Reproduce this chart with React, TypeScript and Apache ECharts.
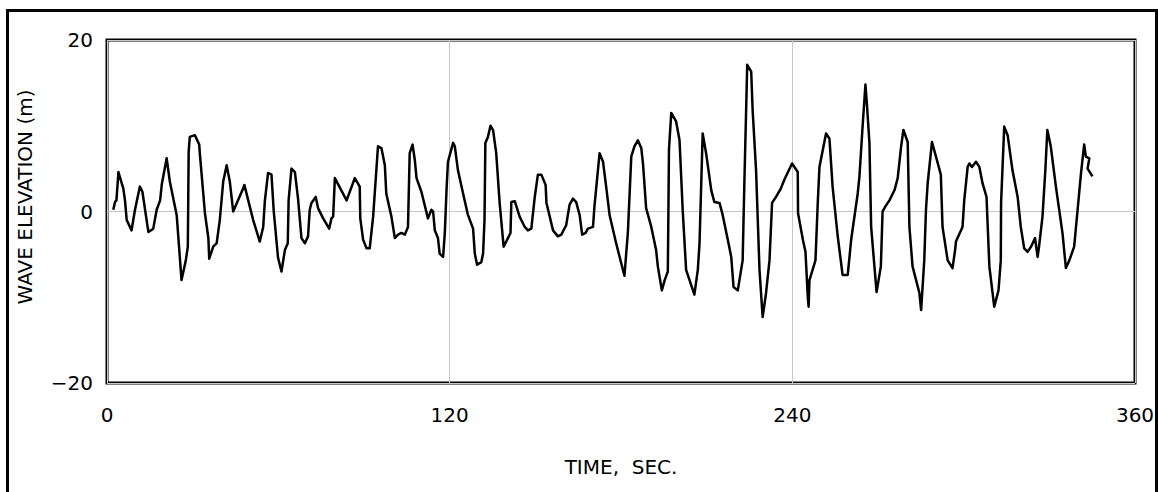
import React, { useEffect, useRef } from "react";
import * as echarts from "echarts";

const times: number[] = [
  2.2, 2.8, 3.3, 4.0, 5.7, 6.3, 6.9, 8.6, 9.8, 11.5, 12.4, 14.5, 16.2, 17.4, 18.6, 19.2, 20.9, 22.0, 24.4, 26.1,
  27.6, 28.3, 28.6, 29.0, 30.8, 32.3, 32.5, 34.3, 35.5, 35.8, 37.2, 38.4, 39.5, 40.7, 41.9, 43.0, 44.2, 47.7, 48.1, 51.2,
  53.5, 54.7, 55.3, 56.4, 57.6, 58.4, 59.9, 61.1, 62.3, 63.3, 63.6, 64.6, 65.8, 66.9, 68.1, 69.3, 70.4, 71.0, 71.6, 73.1,
  73.9, 75.7, 77.8, 78.6, 79.2, 79.8, 83.9, 86.8, 88.5, 88.7, 89.7, 90.9, 92.0, 93.2, 94.9, 96.1, 97.3, 97.8, 99.6, 100.8,
  101.9, 103.1, 104.3, 105.4, 106.0, 107.0, 107.8, 108.4, 110.1, 112.4, 113.6, 114.2, 114.8, 115.9, 116.5, 117.7, 118.3, 118.9, 119.4, 121.2,
  121.8, 122.9, 124.7, 126.4, 128.2, 128.8, 129.6, 131.1, 131.7, 132.2, 132.5, 133.4, 134.3, 135.2, 136.3, 137.5, 138.9, 140.4, 141.3, 141.6,
  142.8, 144.5, 146.3, 147.4, 148.6, 149.8, 150.9, 152.1, 153.6, 153.9, 156.2, 157.9, 159.1, 160.8, 162.0, 163.2, 164.3, 165.5, 166.4, 167.6,
  168.4, 170.2, 170.7, 172.5, 173.7, 174.8, 176.0, 178.3, 181.2, 182.4, 183.6, 184.7, 185.9, 187.1, 187.7, 188.8, 190.6, 192.3, 192.9, 194.3,
  195.3, 196.4, 196.8, 197.6, 199.3, 200.5, 201.6, 202.8, 204.0, 205.7, 206.9, 207.5, 208.6, 209.8, 211.6, 212.7, 214.5, 215.6, 217.4, 218.6,
  219.4, 220.9, 222.6, 223.2, 224.2, 225.6, 226.1, 227.3, 228.5, 229.6, 230.8, 232.0, 232.9, 234.3, 236.0, 237.2, 239.9, 241.9, 242.0, 243.7,
  244.6, 245.4, 245.7, 246.0, 248.1, 248.9, 249.5, 251.8, 253.0, 254.1, 255.9, 257.6, 259.4, 260.6, 262.9, 263.5, 264.6, 265.6, 266.1, 267.0,
  267.6, 269.5, 271.0, 271.6, 272.6, 274.0, 275.8, 276.9, 278.1, 278.9, 280.4, 281.0, 282.1, 284.5, 285.1, 286.2, 286.8, 287.4, 288.9, 290.3,
  292.0, 292.6, 294.4, 296.1, 297.0, 297.3, 299.6, 300.2, 301.4, 302.0, 302.9, 304.3, 305.5, 306.6, 308.0, 309.0, 310.7, 312.2, 313.0, 313.1,
  314.2, 315.4, 317.1, 318.9, 320.0, 321.2, 322.4, 323.6, 325.0, 325.9, 326.4, 327.6, 328.6, 329.3, 330.5, 332.3, 334.6, 335.8, 337.0, 338.7,
  339.9, 341.1, 342.2, 342.8, 344.0, 343.4, 345.1,
];

const elevations: number[] = [
  0.2, 1.1, 1.3, 4.6, 2.7, 1.3, -1.0, -2.2, 0.2, 2.9, 2.3, -2.4, -2.0, 0.2, 1.3, 3.2, 6.2, 3.5, -0.4, -8.0,
  -5.7, -4.1, 7.0, 8.7, 8.9, 7.8, 6.8, -0.2, -3.1, -5.5, -4.1, -3.7, -1.0, 3.5, 5.4, 3.5, 0.0, 2.7, 3.1, -1.0,
  -3.5, -1.8, 1.3, 4.5, 4.3, 0.0, -5.4, -7.0, -4.5, -3.7, 1.3, 5.0, 4.6, 1.5, -3.1, -3.7, -2.9, 0.2, 1.0, 1.7,
  0.4, -0.8, -2.0, -0.8, -0.6, 3.9, 1.3, 3.9, 2.9, -0.8, -3.3, -4.3, -4.3, -0.6, 7.6, 7.4, 5.4, 2.1, -0.6, -3.1,
  -2.7, -2.5, -2.7, -1.8, 6.8, 7.8, 6.0, 3.9, 2.3, -0.8, 0.2, 0.0, -2.2, -3.1, -4.9, -5.3, -2.5, 2.5, 5.8, 8.0,
  7.6, 4.8, 2.1, -0.4, -2.0, -4.9, -6.2, -5.9, -4.9, -1.0, 8.0, 8.7, 10.0, 9.5, 6.8, 1.0, -4.1, -3.1, -2.5, 1.1,
  1.2, -0.6, -1.8, -2.2, -2.0, 1.7, 4.3, 4.3, 3.1, 1.0, -2.2, -2.9, -2.7, -1.6, 0.8, 1.5, 1.1, -0.4, -2.7, -2.5,
  -2.0, -1.8, 0.6, 6.8, 5.8, 2.9, -0.4, -3.7, -7.5, -2.5, 6.4, 7.6, 8.3, 7.4, 5.6, 0.4, -1.8, -4.5, -6.4, -9.2,
  -8.0, -7.0, 7.2, 11.5, 10.5, 8.3, 0.2, -6.8, -8.0, -9.7, -6.8, -3.7, 9.1, 6.8, 2.5, 1.1, 1.0, -0.4, -3.3, -5.3,
  -8.8, -9.2, -5.7, 3.3, 17.1, 16.3, 11.8, 4.8, -6.8, -12.3, -9.5, -5.7, 1.0, 1.7, 2.7, 3.7, 5.6, 4.6, -0.2, -3.3,
  -4.7, -9.9, -11.1, -8.0, -5.7, 1.0, 5.2, 9.1, 8.5, 2.9, -2.9, -7.4, -7.4, -3.3, 2.1, 4.1, 9.9, 14.8, 12.6, 8.0,
  -1.8, -9.4, -6.4, 0.0, 0.6, 1.3, 2.5, 3.9, 7.6, 9.5, 8.1, -1.8, -6.4, -9.5, -11.5, -5.7, 0.2, 3.3, 8.1, 6.4,
  4.3, -1.8, -5.7, -6.6, -4.5, -3.5, -1.8, 1.3, 5.2, 5.6, 5.2, 5.8, 5.2, 3.3, 1.7, -6.4, -11.1, -9.2, -5.7, 1.0,
  9.9, 8.9, 4.8, 1.7, -1.8, -4.3, -4.7, -4.1, -3.1, -5.3, -4.1, -0.6, 4.8, 9.5, 7.6, 2.9, -2.5, -6.6, -5.7, -4.1,
  0.2, 4.5, 7.8, 6.4, 6.2, 5.0, 4.1,
];

const xTicks = { min: 0, max: 360, interval: 120 };
const yTicks = { min: -20, max: 20, interval: 20 };
const xTitle = "TIME,  SEC.";
const yTitle = "WAVE ELEVATION (m)";

const FONT = "DejaVu Sans";

export default function App() {
  const ref = useRef<HTMLDivElement>(null);

  useEffect(() => {
    if (!ref.current) return;
    const chart = echarts.init(ref.current, undefined, { renderer: "svg" });
    const data = times.map((t, i) => [t, elevations[i]]);
    chart.setOption({
      animation: false,
      backgroundColor: "#ffffff",
      grid: {
        left: 107,
        top: 40,
        right: 23,
        bottom: 109,
        show: true,
        borderColor: "#000000",
        borderWidth: 3,
        backgroundColor: "transparent",
        containLabel: false,
      },
      xAxis: {
        type: "value",
        min: xTicks.min,
        max: xTicks.max,
        interval: xTicks.interval,
        axisLine: { show: false },
        axisTick: { show: false },
        splitLine: { show: true, lineStyle: { color: "#c8c8c8", width: 1 } },
        axisLabel: {
          color: "#000",
          fontFamily: FONT,
          fontSize: 20,
          margin: 22,
        },
      },
      yAxis: {
        type: "value",
        min: yTicks.min,
        max: yTicks.max,
        interval: yTicks.interval,
        axisLine: { show: false },
        axisTick: { show: false },
        splitLine: { show: true, lineStyle: { color: "#c8c8c8", width: 1 } },
        axisLabel: {
          color: "#000",
          fontFamily: FONT,
          fontSize: 20,
          margin: 14,
          formatter: (v: number) => (v < 0 ? "\u2212" + Math.abs(v) : String(v)),
        },
      },
      graphic: [
        {
          type: "rect",
          silent: true,
          shape: { x: 7.5, y: 10.5, width: 1149, height: 500 },
          style: { fill: "none", stroke: "#000", lineWidth: 3 },
        },
        {
          type: "text",
          x: 621,
          y: 467,
          style: {
            text: xTitle,
            fill: "#000",
            font: `20px "${FONT}"`,
            textAlign: "center",
            textVerticalAlign: "middle",
          },
        },
        {
          type: "text",
          x: 25,
          y: 197,
          rotation: Math.PI / 2,
          style: {
            text: yTitle,
            fill: "#000",
            font: `20px "${FONT}"`,
            textAlign: "center",
            textVerticalAlign: "middle",
          },
        },
      ],
      series: [
        {
          type: "line",
          data,
          showSymbol: false,
          symbol: "none",
          lineStyle: { color: "#000", width: 2.5, join: "round" },
          clip: true,
        },
      ],
    });
    return () => chart.dispose();
  }, []);

  return (
    <div
      ref={ref}
      style={{ position: "fixed", left: 0, top: 0, width: 1158, height: 492 }}
    />
  );
}
